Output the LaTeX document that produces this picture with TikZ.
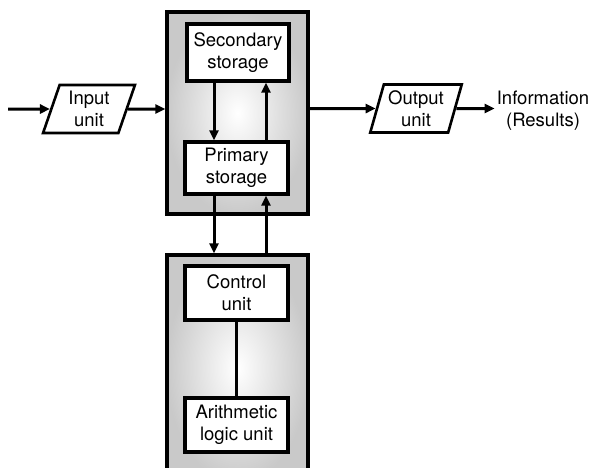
\documentclass[tikz,border=0pt]{standalone}
\usepackage{fontspec}
\setmainfont{TeX Gyre Heros}
\usetikzlibrary{arrows.meta,shapes.geometric}

\begin{document}
\begin{tikzpicture}[x=1pt,y=-1pt,
  unitbox/.style={draw,line width=3.2pt,fill=white,align=center,inner sep=0pt,
    minimum width=103pt,minimum height=54pt,font=\fontsize{18.5}{22}\selectfont},
  iobox/.style={draw,line width=2.6pt,fill=white,trapezium,trapezium left angle=72,
    trapezium right angle=108,trapezium stretches=true,minimum width=92pt,
    minimum height=48pt,inner sep=0pt,align=center,font=\fontsize{18.5}{22}\selectfont},
  panel/.style={draw,line width=3.2pt,shading=radial,inner color=white,
    outer color=gray!42,minimum width=141pt},
  flow/.style={line width=3pt,-{Triangle[length=10pt,width=9pt]}}]
  \useasboundingbox (0,0) rectangle (595,467);
  \clip (0,0) rectangle (595,467);

  % Panels
  \node[panel,minimum height=202pt] (mem) at (237.5,113) {};
  \node[panel,minimum height=226pt] (cpu) at (237.5,368) {};

  % Units
  \node[unitbox,minimum width=102pt,minimum height=57pt] (sec) at (238,52.5) {Secondary\\storage};
  \node[unitbox,minimum height=52pt] (pri) at (236.5,168) {Primary\\storage};
  \node[unitbox] (cu) at (236.5,293) {Control\\unit};
  \node[unitbox] (alu) at (236.5,425) {Arithmetic\\logic unit};

  % Input and output
  \node[iobox] (in) at (89,109) {Input\\unit};
  \node[iobox] (out) at (416,108.5) {Output\\unit};
  \node[align=center,inner sep=2pt,font=\fontsize{18.5}{22}\selectfont] (info) at (543,111) {Information\\(Results)};

  % Flows
  \coordinate (src) at (8,109);
  \coordinate (dn) at (214,0);
  \coordinate (up) at (266,0);
  \draw[flow] (src) -- (in);
  \draw[flow] (in) -- (in -| mem.west);
  \draw[flow] (out -| mem.east) -- (out);
  \draw[flow] (out) -- (out -| info.west);
  \draw[flow] (sec.south -| dn) -- (pri.north -| dn);
  \draw[flow] (pri.north -| up) -- (sec.south -| up);
  \draw[flow] (pri.south -| dn) -- (cpu.north -| dn);
  \draw[flow] (cpu.north -| up) -- (pri.south -| up);
  \draw[line width=3pt] (cu) -- (alu);
\end{tikzpicture}
\end{document}
